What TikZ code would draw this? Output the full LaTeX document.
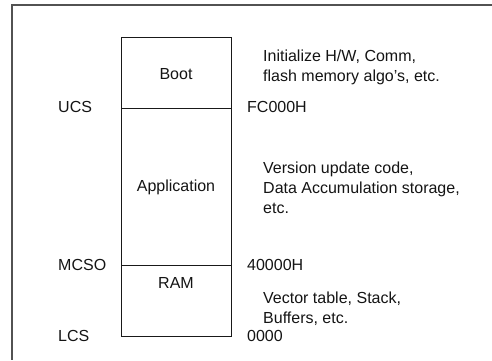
\documentclass[tikz,border=0pt]{standalone}
\usepackage{fontspec}
\setmainfont{Liberation Sans}
\begin{document}
\begin{tikzpicture}[x=1pt,y=-1pt,
  frame/.style={draw=black!68, line width=2pt},
  seg/.style={draw=black!90, line width=1.1pt, minimum width=110.3pt,
    inner sep=0pt, anchor=north west},
  txt/.style={text=black!92, inner sep=0pt, font=\fontsize{16}{20}\selectfont},
  lbl/.style={txt, anchor=west, align=left}]
  \useasboundingbox (0,0) rectangle (492,360);
  % partial page frame
  \draw[frame] (492,5) -- (12,5) -- (12,360);

  % memory map segments
  \node[seg, minimum height=71.6pt]  (boot) at (120.7,36.7) {};
  \node[seg, minimum height=156.7pt] (app)  at (120.7,108.3) {};
  \node[seg, minimum height=71pt]    (ram)  at (120.7,265) {};

  % segment names
  \node[txt] (bootname) at (176,74)  {Boot};
  \node[txt] (appname)  at (176,187) {Application};
  \node[txt] (ramname)  at (176,283) {RAM};

  % chip-select labels
  \node[lbl] (ucs)  at (58,107) {UCS};
  \node[lbl] (mcso) at (58,265) {MCSO};
  \node[lbl] (lcs)  at (58,336) {LCS};

  % addresses
  \node[lbl] (afc)  at (247,107) {FC000H};
  \node[lbl] (a40)  at (247,265) {40000H};
  \node[lbl] (a00)  at (247,336) {0000};

  % contents
  \node[lbl] (dboot) at (263,67)  {Initialize H/W, Comm,\\flash memory algo’s, etc.};
  \node[lbl] (dapp)  at (263,188) {Version update code,\\Data Accumulation storage,\\etc.};
  \node[lbl] (dram)  at (263,308.5) {Vector table, Stack,\\Buffers, etc.};
\end{tikzpicture}
\end{document}
